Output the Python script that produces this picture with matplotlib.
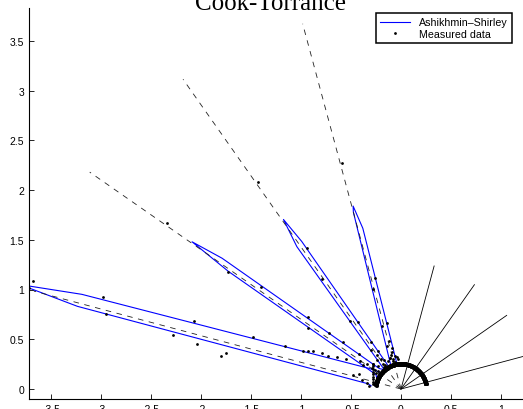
import numpy as np
import matplotlib
matplotlib.use('Agg')
import matplotlib.pyplot as plt
from matplotlib.lines import Line2D

plt.rcParams['font.family'] = ['Liberation Sans', 'DejaVu Sans']
plt.rcParams['axes.unicode_minus'] = False
plt.rcParams['lines.scale_dashes'] = False

# ---------------- data ----------------
# incidence angles (deg from the normal, right side)
incidence = [15, 35, 55, 75]
incident_len = [1.28, 1.28, 1.29, 1.28]
mirror_len = [3.80, 3.80, 3.80, 3.80]

# Ashikhmin-Shirley model curves: vertices (outgoing angle deg, radius); negative = left
model_ang_15 = [80, 70, 60, 50, 40, 30, 20, 10, 0, -9, -13.3, -14.6, -15.0, -22.8, -30, -40, -50, -60, -70, -80]
model_r_15 = [0.25, 0.25, 0.25, 0.25, 0.25, 0.25, 0.25, 0.25, 0.25, 0.25, 1.66, 1.90, 1.84, 0.27, 0.25, 0.25, 0.25, 0.25, 0.25, 0.25]
model_ang_35 = [80, 70, 60, 50, 40, 30, 20, 10, 0, -10, -20, -28.4, -33.8, -34.6, -36.05, -40.4, -50, -60, -70, -80]
model_r_35 = [0.25, 0.25, 0.25, 0.25, 0.25, 0.25, 0.25, 0.25, 0.25, 0.25, 0.25, 0.25, 1.785, 2.07, 1.77, 0.27, 0.25, 0.25, 0.25, 0.25]
model_ang_55 = [80, 70, 60, 50, 40, 30, 20, 10, 0, -10, -20, -30, -40, -46.6, -53.7, -54.7, -55.6, -60, -70, -80]
model_r_55 = [0.25, 0.25, 0.25, 0.25, 0.25, 0.25, 0.25, 0.25, 0.25, 0.25, 0.25, 0.25, 0.25, 0.30, 2.22, 2.56, 2.09, 0.29, 0.25, 0.25]
model_ang_75 = [80, 70, 60, 50, 40, 30, 20, 10, 0, -10, -20, -30, -40, -50, -57, -73.4, -74.6, -75.6, -81, -84]
model_r_75 = [0.25, 0.25, 0.25, 0.25, 0.25, 0.25, 0.25, 0.25, 0.25, 0.25, 0.25, 0.25, 0.25, 0.25, 0.38, 3.33, 3.95, 3.34, 0.33, 0.30]

# measured data: (outgoing angle deg, radius)
meas_ang_15 = [-14.6, -13.1, -15.6, -16.8, -11.8, -14.0, -17.5, -12.5, -16.0, -10.5, -19.0, -8.0, -5.0,
               -13.0, -15.0, -17.0, -14.0]
meas_r_15 = [2.35, 1.15, 1.04, 0.66, 0.68, 0.50, 0.45, 0.42, 0.36, 0.34, 0.33, 0.32, 0.30,
             0.28, 0.31, 0.29, 0.38]
meas_ang_35 = [-34.5, -33.5, -35.4, -36.9, -32.7, -33.0, -37.5, -35.0, -31.0, -39.0, -29.5, -25.0, -20.0,
               -33.0, -35.0, -37.0, -34.0]
meas_r_35 = [2.52, 1.70, 1.36, 0.85, 0.80, 0.56, 0.50, 0.42, 0.45, 0.38, 0.34, 0.31, 0.33,
             0.29, 0.31, 0.28, 0.36]
meas_ang_55 = [-54.5, -55.7, -53.7, -52.3, -56.7, -52.1, -51.0, -50.0, -56.0, -53.0, -58.0, -48.0, -45.0,
               -52.0, -54.0, -57.0, -55.0]
meas_r_55 = [2.87, 2.09, 1.74, 1.18, 1.11, 0.91, 0.75, 0.55, 0.50, 0.42, 0.45, 0.38, 0.33,
             0.29, 0.32, 0.30, 0.36]
meas_ang_75 = [-73.6, -74.7, -72.7, -75.6, -76.7, -71.6, -77.6, -79.6, -78.4, -70.6, -69.7, -68.8,
               -67.8, -66.6, -65.5, -65.7, -63.4, -61.4, -70.0, -74.0, -77.0, -80.0, -84.0,
               -48.2, -51.0, -54.5, -58.0, -61.8, -66.0, -70.3, -75.0, -79.9]
meas_r_75 = [3.84, 3.86, 3.12, 3.05, 2.34, 2.18, 2.09, 1.83, 1.79, 1.57, 1.24, 1.05,
             1.00, 0.96, 0.87, 0.80, 0.72, 0.63, 0.45, 0.50, 0.40, 0.35, 0.32,
             0.375, 0.36, 0.344, 0.33, 0.318, 0.305, 0.297, 0.29, 0.284]

# dense diffuse measurements (semicircle)
diffuse_r = [0.245, 0.255, 0.25, 0.262]
arc_first, arc_last, arc_step = -82, 79, 1

xticks = [-3.5, -3, -2.5, -2, -1.5, -1, -0.5, 0, 0.5, 1]
yticks = [0, 0.5, 1, 1.5, 2, 2.5, 3, 3.5]

# ---------------- figure ----------------
W, H = 523, 410
fig = plt.figure(figsize=(W / 100, H / 100), dpi=100)
ax = fig.add_axes([29 / W, 10 / H, (W - 29) / W, (400 - 9) / H])
ax.set_xlim(-3.72, 1.22)
ax.set_ylim(-10 / 99.5, 381 / 99.5)


def pol(ang, r):
    a = np.radians(np.asarray(ang, float))
    r = np.asarray(r, float)
    return r * np.sin(a), r * np.cos(a)


models = [(model_ang_15, model_r_15), (model_ang_35, model_r_35),
          (model_ang_55, model_r_55), (model_ang_75, model_r_75)]
meas = [(meas_ang_15, meas_r_15), (meas_ang_35, meas_r_35),
        (meas_ang_55, meas_r_55), (meas_ang_75, meas_r_75)]

for ang, r in models:
    x, y = pol(ang, r)
    ax.plot(x, y, color='#0000ff', lw=0.8, zorder=2)

for th, li, lm in zip(incidence, incident_len, mirror_len):
    x, y = pol([0, th], [0, li])
    ax.plot(x, y, color='k', lw=0.6, zorder=3)
    x, y = pol([0, -th], [0, lm])
    ax.plot(x, y, color='#222222', lw=0.6, linestyle=(0, (4.0, 4.0)), zorder=3)

arc_ang = np.arange(arc_first, arc_last + arc_step, arc_step)
for dr, (ang, r) in zip(diffuse_r, meas):
    x, y = pol(arc_ang, [dr] * len(arc_ang))
    ax.plot(x, y, ls='none', marker='o', ms=2.0, mfc='k', mec='none', zorder=4)
    x, y = pol(ang, r)
    ax.plot(x, y, ls='none', marker='o', ms=2.0, mfc='k', mec='none', zorder=4)

ax.set_xticks(xticks)
ax.set_xticklabels(['%g' % v for v in xticks])
ax.set_yticks(yticks)
ax.set_yticklabels(['%g' % v for v in yticks])
ax.tick_params(direction='in', length=3.5, width=0.6, labelsize=7.5, pad=3.5, colors='k')
for s in ['top', 'right']:
    ax.spines[s].set_visible(False)
for s in ['left', 'bottom']:
    ax.spines[s].set_linewidth(0.8)
    ax.spines[s].set_color('k')

handles = [Line2D([], [], color='#0000ff', lw=0.8),
           Line2D([], [], ls='none', marker='o', ms=2.0, mfc='k', mec='none')]
leg = ax.legend(handles, ['Ashikhmin\u2013Shirley', 'Measured data'],
                loc='upper right', bbox_to_anchor=(512 / W, 1 - 14 / H),
                bbox_transform=fig.transFigure, borderaxespad=0, fontsize=7.7,
                handlelength=2.8, handletextpad=0.8, borderpad=0.4, labelspacing=0.15,
                fancybox=False, framealpha=1, edgecolor='k')
leg.get_frame().set_linewidth(1.1)

fig.text(270 / W, 1 - 10 / H, 'Cook-Torrance', ha='center', va='baseline',
         fontsize=18, family=['Liberation Serif', 'DejaVu Serif'])

fig.savefig('out.png', dpi=100)
